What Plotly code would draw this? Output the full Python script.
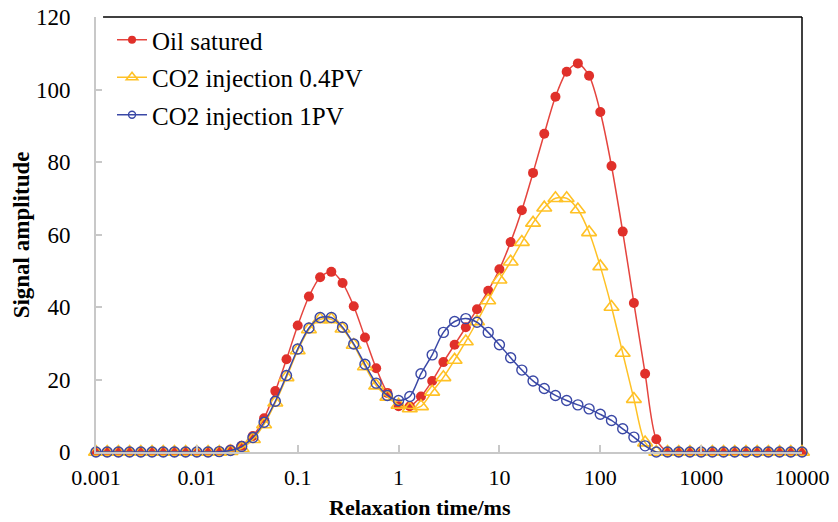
import plotly.graph_objects as go

# Relaxation time T2 (ms), 64 log-spaced points
t2 = [0.001, 0.001292, 0.001668, 0.002154, 0.002783, 0.003594, 0.004642, 0.005995, 0.007743,
      0.01, 0.01292, 0.01668, 0.02154, 0.02783, 0.03594, 0.04642, 0.05995, 0.07743,
      0.1, 0.1292, 0.1668, 0.2154, 0.2783, 0.3594, 0.4642, 0.5995, 0.7743,
      1, 1.292, 1.668, 2.154, 2.783, 3.594, 4.642, 5.995, 7.743,
      10, 12.92, 16.68, 21.54, 27.83, 35.94, 46.42, 59.95, 77.43,
      100, 129.2, 166.8, 215.4, 278.3, 359.4, 464.2, 599.5, 774.3,
      1000, 1292, 1668, 2154, 2783, 3594, 4642, 5995, 7743,
      10000]

oil_saturated = [0, 0, 0, 0, 0, 0, 0, 0, 0, 0, 0, 0.2,
                 0.7, 1.7, 4.4, 9.3, 16.8, 25.6, 34.9, 42.9, 48.2, 49.7,
                 46.6, 40.2, 31.6, 23.1, 16.3, 12.6, 12.6, 15.3, 19.6, 24.8,
                 29.6, 34.4, 39.4, 44.5, 50.4, 57.9, 66.7, 77.0, 87.8, 98.0,
                 104.9, 107.2, 103.8, 93.8, 78.9, 60.8, 41.1, 21.6, 3.5, 0,
                 0, 0, 0, 0, 0, 0, 0, 0, 0, 0, 0, 0]

co2_04pv = [0, 0, 0, 0, 0, 0, 0, 0, 0, 0, 0, 0,
            0.2, 1.0, 3.5, 7.6, 13.6, 20.6, 28.0, 33.8, 36.6, 36.6,
            34.0, 29.5, 23.6, 18.3, 15.2, 13.0, 12.0, 12.6, 16.6, 20.6,
            25.4, 30.5, 36.0, 41.8, 47.5, 52.5, 57.9, 63.2, 67.4, 70.0,
            70.0, 66.9, 60.6, 51.2, 40.0, 27.3, 14.6, 2.6, 0, 0,
            0, 0, 0, 0, 0, 0, 0, 0, 0, 0, 0, 0]

co2_1pv = [0, 0, 0, 0, 0, 0, 0, 0, 0, 0, 0, 0.1,
           0.4, 1.5, 4.0, 8.2, 14.0, 21.1, 28.4, 34.2, 37.1, 37.1,
           34.4, 29.8, 24.2, 19.0, 15.6, 14.2, 15.3, 21.6, 26.8, 33.0,
           36.0, 36.8, 35.8, 33.0, 29.6, 26.0, 22.6, 19.6, 17.5, 15.6,
           14.2, 13.0, 11.9, 10.4, 8.7, 6.4, 4.1, 1.7, 0, 0,
           0, 0, 0, 0, 0, 0, 0, 0, 0, 0, 0, 0]

series_names = ["Oil satured", "CO2 injection 0.4PV", "CO2 injection 1PV"]
x_tickvals = [0.001, 0.01, 0.1, 1, 10, 100, 1000, 10000]
x_ticktext = ["0.001", "0.01", "0.1", "1", "10", "100", "1000", "10000"]
x_title = "Relaxation time/ms"
y_title = "Signal amplitude"

RED = "#E0302A"
RED_LINE = "#E5443E"
YEL = "#FFC125"
BLUE = "#3A48A6"
FONT = "Times New Roman"

fig = go.Figure()

styles = [
    dict(y=oil_saturated, color=RED_LINE,
         marker=dict(symbol="circle", size=10, color=RED, line=dict(width=0)),
         lmarker=dict(symbol="circle", size=8, color=RED, line=dict(width=0))),
    dict(y=co2_04pv, color=YEL,
         marker=dict(symbol="triangle-up-open", size=13, color=YEL, line=dict(width=1.6)),
         lmarker=dict(symbol="triangle-up-open", size=10, color=YEL, line=dict(width=1.6))),
    dict(y=co2_1pv, color=BLUE,
         marker=dict(symbol="circle-open", size=10, color=BLUE, line=dict(width=1.4)),
         lmarker=dict(symbol="circle-open", size=7, color=BLUE, line=dict(width=1.4))),
]

for name, s in zip(series_names, styles):
    fig.add_trace(go.Scatter(
        x=t2, y=s["y"], mode="lines+markers", name=name, showlegend=False,
        line=dict(color=s["color"], width=1.5, shape="spline", smoothing=0.8),
        marker=s["marker"], cliponaxis=False))

for name, s in zip(series_names, styles):
    fig.add_trace(go.Scatter(
        x=[None], y=[None], mode="lines+markers", name=name, legendgroup=name,
        line=dict(color=s["color"], width=1.5), marker=s["lmarker"]))

fig.update_layout(
    width=838, height=522,
    margin=dict(l=96, r=36, t=17, b=70, autoexpand=False),
    paper_bgcolor="white", plot_bgcolor="white",
    font=dict(family=FONT, size=22, color="black"),
    showlegend=True,
    legend=dict(x=0.0227, y=1.0, xanchor="left", yanchor="top",
                bgcolor="rgba(0,0,0,0)", font=dict(family=FONT, size=25, color="black"),
                tracegroupgap=2, itemwidth=30),
    xaxis=dict(type="log", range=[-3, 4], tickvals=x_tickvals, ticktext=x_ticktext,
               showline=True, linecolor="#C8C8C8", linewidth=2,
               ticks="inside", ticklen=7, tickcolor="#C8C8C8", tickwidth=1.5,
               showgrid=False, zeroline=False, automargin=False,
               ticklabelstandoff=5,
               tickfont=dict(family=FONT, size=22, color="black")),
    yaxis=dict(range=[0, 120], dtick=20, tick0=0,
               showline=True, linecolor="#C8C8C8", linewidth=2,
               ticks="inside", ticklen=6, tickcolor="#C8C8C8", tickwidth=1.5,
               showgrid=False, zeroline=False, automargin=False,
               ticklabelstandoff=19,
               tickfont=dict(family=FONT, size=23, color="black")),
    annotations=[
        dict(text="<b>" + x_title + "</b>", xref="paper", yref="paper",
             x=0.459, y=-0.128, xanchor="center", yanchor="middle", showarrow=False,
             font=dict(family=FONT, size=22, color="black")),
        dict(text="<b>" + y_title + "</b>", xref="paper", yref="paper",
             x=-0.105, y=0.5, xanchor="center", yanchor="middle", showarrow=False,
             textangle=-90, font=dict(family=FONT, size=23, color="black")),
    ],
    shapes=[
        dict(type="line", xref="paper", yref="paper", x0=0.01, x1=1, y0=1, y1=1,
             line=dict(color="black", width=1.5), layer="below"),
        dict(type="line", xref="paper", yref="paper", x0=1, x1=1, y0=0, y1=1,
             line=dict(color="black", width=1.5), layer="below"),
    ],
)

fig.write_html("out.html")
